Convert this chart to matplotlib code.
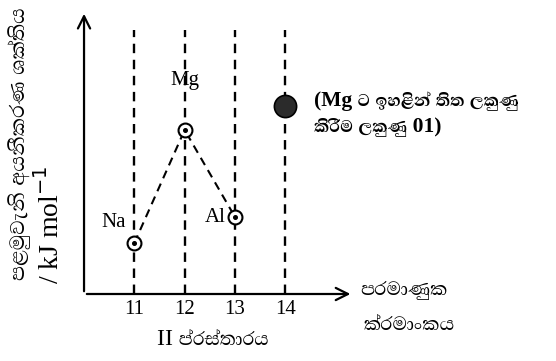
import matplotlib
matplotlib.use('Agg')
import matplotlib.pyplot as plt
import matplotlib.font_manager as fm
from matplotlib.ft2font import FT2Font

# atomic number vs first ionisation energy (heights, arbitrary units)
atomic_numbers = [11, 12, 13]
elements = ['Na', 'Mg', 'Al']
ionisation = [51, 164, 77]
answer_z = 14
answer_ie = 188
grid_z = [11, 12, 13, 14]
tick_labels = ['11', '12', '13', '14']

# the ZWJ of "ක්‍ර" has no glyph here, so it is left out
ylabel_1 = 'පළමුවැනි අයනීකරණ ශක්තිය'
ylabel_2 = r'/ kJ mol$^{-1}$'
xlabel = ['පරමාණුක', 'ක්රමාංකය']
caption = 'II ප්රස්තාරය'
note = ['(Mg ට ඉහළින් තිත ලකුණු', 'කිරීම ලකුණු 01)']

# look for installed fonts that have Sinhala glyphs, prefer a proportional one
found = []
for f in fm.fontManager.ttflist:
    try:
        if 0x0DB4 in FT2Font(f.fname).get_charmap():
            found.append(f.name)
    except Exception:
        pass
found.sort(key=lambda n: ('Mono' in n, n))
serif = 'Liberation Serif'
mixed = [serif] + found[:1] + ['DejaVu Sans']

fig = plt.figure(figsize=(5.56, 3.61), dpi=100)
ax = fig.add_axes([0, 0, 1, 1])
ax.set_xlim(8.33, 19.38)
ax.set_ylim(-67, 294)
ax.axis('off')

# axes with open arrow heads
ax.annotate('', xy=(15.35, 0), xytext=(10, 0),
            arrowprops=dict(arrowstyle='->', lw=1.6, color='black', mutation_scale=22))
ax.annotate('', xy=(10, 283), xytext=(10, 0),
            arrowprops=dict(arrowstyle='->', lw=1.6, color='black', mutation_scale=22))

for z in grid_z:
    ax.plot([z, z], [0, 264], color='black', lw=1.7, dashes=(4, 2.8), zorder=1)

ax.plot(atomic_numbers, ionisation, color='black', lw=1.5, dashes=(4, 2.8), zorder=2)
ax.plot(atomic_numbers, ionisation, 'o', ms=10, mfc='white', mec='black', mew=1.5, zorder=3)
ax.plot(atomic_numbers, ionisation, 'o', ms=2.6, color='black', zorder=4)
ax.plot([answer_z], [answer_ie], 'o', ms=16, mfc='#2b2b2b', mec='black', mew=1.2, zorder=4)

offsets = {'Na': (-15, 15, 'center', 'center'), 'Mg': (0, 36, 'center', 'center'),
           'Al': (-7, 0, 'right', 'center')}
for z, e, v in zip(atomic_numbers, elements, ionisation):
    dx, dy, ha, va = offsets[e]
    ax.annotate(e, (z, v), xytext=(dx, dy), textcoords='offset points',
                ha=ha, va=va, fontsize=15, family=serif)

for z, t in zip(grid_z, tick_labels):
    ax.text(z, -16, t, ha='center', va='center', fontsize=15, family=serif)

ax.text(15.48, 4, xlabel[0], ha='left', va='center', fontsize=17.5, family=mixed)
ax.text(15.55, -31, xlabel[1], ha='left', va='center', fontsize=17.5, family=mixed)
ax.text(11.45, -46, caption, ha='left', va='center', fontsize=17, family=mixed)
ax.text(14.58, 193, note[0], ha='left', va='center', fontsize=15.5, family=mixed,
        fontweight='bold')
ax.text(14.58, 167, note[1], ha='left', va='center', fontsize=15.5, family=mixed,
        fontweight='bold')

fig.text(0.036, 0.224, ylabel_1, rotation=90, ha='center', va='bottom', fontsize=18.5, family=mixed)
fig.text(0.09, 0.214, ylabel_2, rotation=90, ha='center', va='bottom', fontsize=20, family=serif)

fig.savefig('out.png', dpi=100, facecolor='white')
